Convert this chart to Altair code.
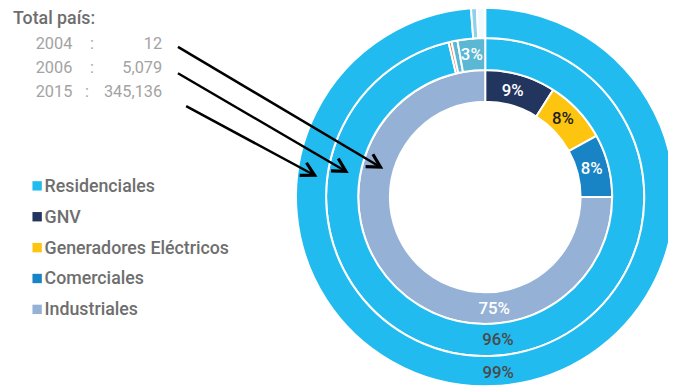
import altair as alt
import pandas as pd
import numpy as np

# ---------------- data ----------------
categorias = ["Residenciales", "GNV", "Generadores Eléctricos", "Comerciales", "Industriales"]
colores = ["#21bbef", "#22355f", "#fec510", "#1884c5", "#95b2d6"]

anios = ["2004", "2006", "2015"]
totales = ["12", "5,079", "345,136"]

valores_2004 = [0, 9, 8, 8, 75]
valores_2006 = [96.3, 0, 0.3, 0.6, 2.8]
valores_2015 = [98.8, 0, 0, 0.5, 0.7]

# ---------------- styling / layout ----------------
colores_anillo = {
    "2006": {"Generadores Eléctricos": "#e2793a", "Comerciales": "#5ab8d4", "Industriales": "#5ab8d4"},
    "2015": {"Comerciales": "#8fd0ea", "Industriales": "#f2fafd"},
}
W, H = 668, 382
CX, CY = 483, 189
anillos = {"2004": (96.5, 128.5), "2006": (128.5, 161), "2015": (161, 191.5)}
FONT = "Roboto"

# label placement: (anio, categoria) -> (angle deg from 12 o'clock, radius, color)
etiquetas_pos = {
    ("2004", "GNV"): (14.6, 110.6, "white"),
    ("2004", "Generadores Eléctricos"): (45.0, 111.3, "#1e1e1e"),
    ("2004", "Comerciales"): (75.1, 111.6, "white"),
    ("2004", "Industriales"): (175.4, 113.4, "white"),
    ("2006", "Residenciales"): (174.9, 145.6, "#4a4a4a"),
    ("2006", "Industriales"): (354.6, 144.3, "white"),
    ("2015", "Residenciales"): (175.8, 179.0, "#4a4a4a"),
}

serie = dict(zip(anios, [valores_2004, valores_2006, valores_2015]))

layers = []

# rings
for anio in anios:
    rows = []
    for i, (c, v) in enumerate(zip(categorias, serie[anio])):
        if v > 0:
            rows.append({"anio": anio, "categoria": c, "valor": v, "orden": i,
                         "color": colores_anillo.get(anio, {}).get(c, colores[i])})
    r0, r1 = anillos[anio]
    layers.append(
        alt.Chart(pd.DataFrame(rows)).mark_arc(stroke="white", strokeWidth=2).encode(
            theta=alt.Theta("valor:Q", stack=True, scale=alt.Scale(domain=[0, 100])),
            order=alt.Order("orden:Q", sort="ascending"),
            color=alt.Color("color:N", scale=None),
            x=alt.value(CX), y=alt.value(CY),
            radius=alt.value(r1), radius2=alt.value(r0),
        )
    )

# percentage labels
lab_rows = []
for (anio, cat), (ang, rad, col) in etiquetas_pos.items():
    v = serie[anio][categorias.index(cat)]
    a = np.deg2rad(ang)
    lab_rows.append({"px": CX + rad * np.sin(a), "py": CY - rad * np.cos(a),
                     "txt": f"{round(v)}%", "col": col})
layers.append(
    alt.Chart(pd.DataFrame(lab_rows)).mark_text(
        font=FONT, fontSize=17, fontWeight=500, align="center", baseline="middle"
    ).encode(
        x=alt.X("px:Q", scale=None), y=alt.Y("py:Q", scale=None),
        text="txt:N", color=alt.Color("col:N", scale=None),
    )
)

# title and totals
layers.append(
    alt.Chart(pd.DataFrame({"t": ["Total país:"]})).mark_text(
        font=FONT, fontSize=18, fontWeight=500, color="#6e6e6e", align="left", baseline="alphabetic"
    ).encode(x=alt.value(5), y=alt.value(14), text="t:N")
)
tot = pd.DataFrame({
    "anio": anios, "total": totales,
    "py": [39 + i * 24.5 for i in range(len(anios))],
    "cx": [85, 85, 80],
    "colon": [":"] * len(anios),
})
base_tot = alt.Chart(tot)
txt_kw = dict(font=FONT, fontSize=16.5, color="#a3a3a3", baseline="alphabetic")
layers.append(base_tot.mark_text(align="left", **txt_kw).encode(
    x=alt.value(28), y=alt.Y("py:Q", scale=None), text="anio:N"))
layers.append(base_tot.mark_text(align="center", **txt_kw).encode(
    x=alt.X("cx:Q", scale=None), y=alt.Y("py:Q", scale=None), text="colon:N"))
layers.append(base_tot.mark_text(align="right", **txt_kw).encode(
    x=alt.value(156), y=alt.Y("py:Q", scale=None), text="total:N"))

# arrows (page coordinates minus margin)
flechas = [((180, 45), (385, 166.7)), ((180, 71.7), (350, 171)), ((188.3, 105), (318.3, 175))]
for (x0, y0), (x1, y1) in flechas:
    x0, y0, x1, y1 = x0 - 8, y0 - 8, x1 - 8, y1 - 8
    ang = float(np.degrees(np.arctan2(y1 - y0, x1 - x0)))
    layers.append(
        alt.Chart(pd.DataFrame({"a": [0]})).mark_rule(color="black", strokeWidth=2.5).encode(
            x=alt.value(x0), y=alt.value(y0), x2=alt.value(x1 - 1.5), y2=alt.value(y1 - 0.8))
    )
    layers.append(
        alt.Chart(pd.DataFrame({"a": [0]})).mark_point(
            shape="M-1,-0.55L0,0L-1,0.55", filled=False, size=700, strokeWidth=3.2,
            color="black", opacity=1, angle=ang, strokeJoin="miter"
        ).encode(x=alt.value(x1), y=alt.value(y1))
    )

# legend
leg = pd.DataFrame({
    "categoria": categorias, "color": colores,
    "py": [177.7 + i * 31.25 for i in range(len(categorias))],
})
layers.append(alt.Chart(leg).mark_square(size=90, opacity=1).encode(
    x=alt.value(29.5), y=alt.Y("py:Q", scale=None), color=alt.Color("color:N", scale=None)))
layers.append(alt.Chart(leg).mark_text(
    font=FONT, fontSize=18, fontWeight=500, color="#6e6e6e", align="left", baseline="middle", dy=1
).encode(x=alt.value(37), y=alt.Y("py:Q", scale=None), text="categoria:N"))

chart = alt.layer(*layers).properties(
    width=W, height=H, padding=0, autosize=alt.AutoSizeParams(type="none")
).configure_view(stroke=None)

chart.save("out.html", embed_options={"renderer": "svg", "actions": False})
